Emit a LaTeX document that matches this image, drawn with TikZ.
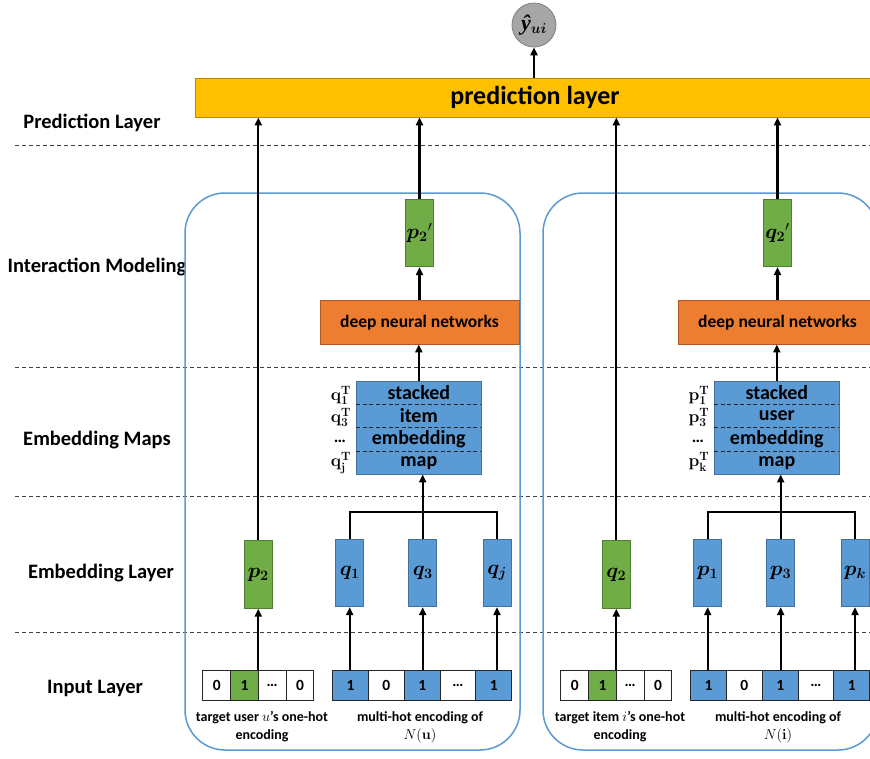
\documentclass[tikz,border=0pt]{standalone}
\usepackage{amsmath,amssymb}
\usepackage{bm}
\usepackage[no-math]{fontspec}
\setmainfont{Carlito}
\newfontfamily\yhatfont{Liberation Serif}
\usetikzlibrary{arrows.meta,calc}
\definecolor{greenF}{HTML}{70AD47}
\definecolor{greenD}{HTML}{507E32}
\definecolor{blueF}{HTML}{5B9BD5}
\definecolor{blueD}{HTML}{41719C}
\definecolor{orangeF}{HTML}{ED7D31}
\definecolor{orangeD}{HTML}{AE5A21}
\definecolor{yellowF}{HTML}{FFC000}
\definecolor{yellowD}{HTML}{BC8C00}
\definecolor{panelC}{HTML}{5B9BD5}
\definecolor{dashC}{HTML}{404040}
\newcommand\mypanel[7]{%
  \draw[panelbox] (185,193) rectangle (520,750);
  % embedding layer vectors
  \node[vecg] (#1g) at (258.3,574.5) {$\bm{#2}_{\bm 2}$};
  \node[vecb] (#1b1) at (349.7,573) {$\bm{#3}_{\bm 1}$};
  \node[vecb] (#1b2) at (422.7,573) {$\bm{#3}_{\bm 3}$};
  \node[vecb] (#1b3) at (497,573) {$\bm{#3}_{\bm{#4}}$};
  % embedding map
  \node[mapbox] (#1map) at (418.8,427.5) {};
  \draw[mapsep] ($(#1map.north west)!.25!(#1map.south west)$) -- ($(#1map.north east)!.25!(#1map.south east)$);
  \draw[mapsep] (#1map.west) -- (#1map.east);
  \draw[mapsep] ($(#1map.north west)!.75!(#1map.south west)$) -- ($(#1map.north east)!.75!(#1map.south east)$);
  \node[maptxt] (#1t1) at ($(#1map.north)!.125!(#1map.south)$) {stacked};
  \node[maptxt] (#1t2) at ($(#1map.north)!.375!(#1map.south)$) {#5};
  \node[maptxt] (#1t3) at ($(#1map.north)!.625!(#1map.south)$) {embedding};
  \node[maptxt] (#1t4) at ($(#1map.north)!.875!(#1map.south)$) {map};
  \node[mlab, anchor=base] (#1l1) at (341,400.5) {$\mathbf{#3}_{\mathbf 1}^{\mathbf T}$};
  \node[mlab, anchor=base] (#1l2) at (341,422.5) {$\mathbf{#3}_{\mathbf 3}^{\mathbf T}$};
  \node[mlab] (#1l3) at (340,441) {\ldots};
  \node[mlab, anchor=base] (#1l4) at (341,466.5) {$\mathbf{#3}_{\mathbf{#4}}^{\mathbf T}$};
  % interaction
  \node[dnn] (#1dnn) at (419.5,322.4) {deep neural networks};
  \node[vecg] (#1o) at (419.5,233) {${\bm{#2}_{\bm 2}}'$};
  % input cells
  \node[cellw] (#1h1) at (216.7,685.3) {0};
  \node[cellg] (#1h2) at (244.5,685.3) {1};
  \node[cellw] (#1h3) at (272.2,685.3) {\ldots};
  \node[cellw] (#1h4) at (300,685.3) {0};
  \node[mcellb] (#1m1) at (350.6,685.3) {1};
  \node[mcellw] (#1m2) at (386.4,685.3) {0};
  \node[mcellb] (#1m3) at (422.2,685.3) {1};
  \node[mcellw] (#1m4) at (458,685.3) {\ldots};
  \node[mcellb] (#1m5) at (493.8,685.3) {1};
  \node[captxt] (#1c1) at (262,727) {target #6's one-hot\\encoding};
  \node[captxt] (#1c2) at (420,727) {multi-hot encoding of\\$N(\mathbf{#7})$};
  % connectors
  \draw[arr] (#1g.south |- #1h2.north) -- (#1g.south);
  \draw[arr] (#1b1.south |- #1m1.north) -- (#1b1.south);
  \draw[arr] (#1b2.south |- #1m3.north) -- (#1b2.south);
  \draw[arr] (#1b3.south |- #1m5.north) -- (#1b3.south);
  \draw[ln] (#1b1.north) -- ++(0,-27) -| (#1b3.north);
  \draw[arr] (#1b2.north) -- (#1b2.north |- #1map.south);
  \draw[arr] (#1map.north) -- (#1map.north |- #1dnn.south);
  \draw[arr] (#1dnn.north -| #1o.south) -- (#1o.south);
  \draw[arr] (#1o.north) -- (#1o.north |- pred.south);
  \draw[arr] (#1g.north) -- (#1g.north |- pred.south);
}
\begin{document}
\begin{tikzpicture}[x=1pt,y=-1pt,
  lbl/.style={font=\bfseries\fontsize{20.5}{23}\selectfont},
  dashline/.style={draw=dashC, line width=1pt, dash pattern=on 4pt off 3pt},
  panelbox/.style={draw=panelC, line width=1.5pt, rounded corners=40pt},
  vecg/.style={draw=greenD, fill=greenF, line width=0.8pt, minimum width=28pt, minimum height=67.5pt, inner sep=0pt, font=\fontsize{20}{22}\selectfont},
  vecb/.style={vecg, draw=blueD, fill=blueF},
  mapbox/.style={draw=blueD, fill=blueF, line width=0.8pt, minimum width=124.3pt, minimum height=93pt, inner sep=0pt},
  mapsep/.style={draw=black!85, line width=0.9pt, dash pattern=on 4pt off 2.5pt},
  maptxt/.style={font=\bfseries\fontsize{20}{22}\selectfont, inner sep=0pt},
  mlab/.style={font=\bfseries\fontsize{17}{19}\selectfont, inner sep=0pt},
  dnn/.style={draw=orangeD, fill=orangeF, line width=0.8pt, minimum width=199pt, minimum height=43.3pt, inner sep=0pt, font=\bfseries\fontsize{17.5}{20}\selectfont},
  cellw/.style={draw=black!85, fill=white, line width=0.9pt, minimum width=27.8pt, minimum height=29.3pt, inner sep=0pt, font=\bfseries\fontsize{15.5}{17}\selectfont},
  cellg/.style={cellw, fill=greenF},
  mcellw/.style={cellw, minimum width=35.8pt},
  mcellb/.style={mcellw, fill=blueF},
  captxt/.style={align=center, font=\bfseries\fontsize{14}{18}\selectfont, inner sep=0pt},
  arr/.style={line width=2.3pt, -{Triangle[length=8pt,width=7pt]}},
  ln/.style={line width=2.3pt},
  predbar/.style={draw=yellowD, fill=yellowF, line width=0.8pt, minimum width=680pt, minimum height=39pt, inner sep=0pt, font=\bfseries\fontsize{26}{28}\selectfont},
  outc/.style={circle, draw=black!50, fill=black!35, line width=0.8pt, minimum size=44pt, inner sep=0pt, font=\fontsize{22}{24}\selectfont}
]
\useasboundingbox (0,0) rectangle (870,758);
\clip (0,0) rectangle (870,758);
\fill[white] (0,0) rectangle (870,758);
% layer separators
\coordinate (d1a) at (15,145); \coordinate (d1b) at (870,145);
\coordinate (d2a) at (15,367); \coordinate (d2b) at (870,367);
\coordinate (d3a) at (15,496); \coordinate (d3b) at (870,496);
\coordinate (d4a) at (15,632); \coordinate (d4b) at (870,632);
\draw[dashline] (d1a) -- (d1b);
\draw[dashline] (d2a) -- (d2b);
\draw[dashline] (d3a) -- (d3b);
\draw[dashline] (d4a) -- (d4b);
% layer labels
\node[lbl] (lab1) at (92,123) {Prediction Layer};
\node[lbl] (lab2) at (97,267) {Interaction Modeling};
\node[lbl] (lab3) at (97,440) {Embedding Maps};
\node[lbl] (lab4) at (101,573) {Embedding Layer};
\node[lbl] (lab5) at (95,688) {Input Layer};
% prediction
\node[predbar] (pred) at (535,97.5) {prediction layer};
\node[outc] (yout) at (534,25) {{\yhatfont\bfseries\itshape ŷ}$_{\bm{ui}}$};
\draw[arr] (pred.north -| yout.south) -- (yout.south);
% panels
\mypanel{L}{p}{q}{j}{item}{user $u$}{u}
\begin{scope}[xshift=358pt]
\mypanel{R}{q}{p}{k}{user}{item $i$}{i}
\end{scope}
\end{tikzpicture}
\end{document}
